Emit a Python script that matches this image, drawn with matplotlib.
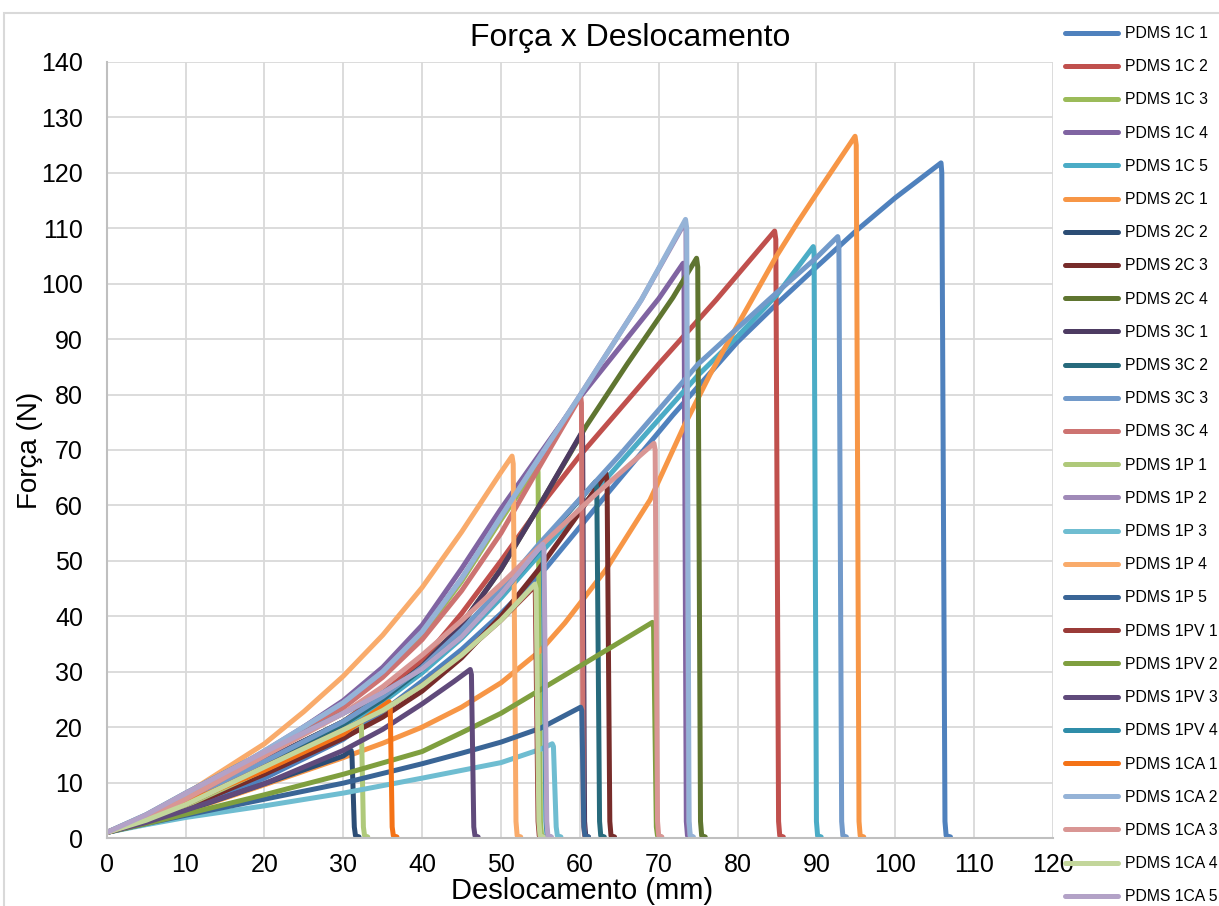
import matplotlib
matplotlib.use("Agg")
import matplotlib.pyplot as plt
from matplotlib.patches import Rectangle

plt.rcParams["font.family"] = ["Liberation Sans", "DejaVu Sans"]

# ── Series data (deslocamento mm, força N) ───────────────────────────────────
x_1c1 = [0, 5, 10, 20, 30, 35, 40, 45, 50, 55.7, 63.3, 71.8, 80, 85, 90, 95, 100, 105.8, 105.9, 106.3, 106.45, 107.0]
y_1c1 = [1, 3.0, 5.3, 10.8, 17.8, 22.8, 28.3, 34, 40.5, 48.7, 61.8, 76.3, 89.5, 96.4, 103, 109.5, 115.5, 121.8, 120, 3, 0.4, 0.2]

x_1c2 = [0, 5, 10, 20, 30, 35, 40, 45, 50, 54.8, 60, 70, 77.3, 84.7, 84.85, 85.2, 85.35, 85.8]
y_1c2 = [1, 3.2, 6.0, 13, 21, 26.2, 32, 40.5, 50, 59.5, 69, 85.5, 97.1, 109.5, 108, 3, 0.4, 0.2]

x_1c3 = [0, 5, 10, 20, 30, 35, 40, 45, 50, 54.6, 54.7, 55.0, 55.15, 55.5]
y_1c3 = [1, 3.6, 6.8, 15, 24, 29.6, 36.7, 46.3, 57.4, 67.2, 66, 3, 0.4, 0.2]

x_1c4 = [0, 5, 10, 20, 30, 35, 40, 45, 50, 60, 70, 73.1, 73.2, 73.5, 73.65, 74.0]
y_1c4 = [1, 3.6, 7.0, 15.3, 24.8, 30.8, 38.4, 48.6, 59.4, 79.5, 97.3, 103.7, 102.5, 3, 0.4, 0.2]

x_1c5 = [0, 5, 10, 20, 30, 35, 40, 45, 50, 54.8, 65, 75, 80, 85, 89.6, 89.7, 90.0, 90.15, 90.6]
y_1c5 = [1, 3.2, 6.0, 12.8, 20, 24.5, 29.8, 36, 43.3, 51, 67.5, 83.5, 90.5, 98, 106.7, 105.5, 3, 0.4, 0.2]

x_2c1 = [0, 5, 10, 20, 30, 35, 40, 45, 50, 55, 58.1, 63.3, 68.9, 73.1, 76.5, 80.3, 84.9, 87.5, 90, 94.9,
         95.05, 95.4, 95.55, 96.0]
y_2c1 = [1, 2.8, 4.8, 9.6, 14.5, 17.1, 20, 23.6, 28, 33.8, 38.8, 48.4, 61, 74, 83.6, 93.3, 104.9, 110.8, 116.2, 126.6,
         125, 3, 0.4, 0.2]

x_2c2 = [0, 5, 10, 20, 30, 31.0, 31.1, 31.4, 31.55, 32.0]
y_2c2 = [1, 2.8, 4.9, 9.8, 14.8, 15.8, 15.0, 2, 0.4, 0.2]

x_2c3 = [0, 5, 10, 20, 30, 35, 40, 45, 50, 54.8, 60, 63.3, 63.45, 63.8, 63.95, 64.4]
y_2c3 = [1, 3.0, 5.5, 11.5, 18, 21.8, 26.5, 32.5, 40, 48.5, 58.8, 65.8, 64.5, 3, 0.4, 0.2]

x_2c4 = [0, 5, 10, 20, 30, 35, 40, 45, 50, 54.8, 60.8, 66, 71.8, 74.8, 74.95, 75.3, 75.45, 75.9]
y_2c4 = [1, 3.4, 6.5, 14, 21, 25.5, 31, 38.5, 48.5, 59.8, 74.3, 85.5, 97.5, 104.6, 103, 3, 0.4, 0.2]

x_3c1 = [0, 5, 10, 20, 30, 35, 40, 45, 50, 54.8, 60.3, 60.35, 60.6, 60.75, 61.1]
y_3c1 = [1, 3.4, 6.5, 14, 21, 25.5, 31, 38.5, 48.5, 59.8, 73.3, 72.5, 3, 0.4, 0.2]

x_3c2 = [0, 5, 10, 20, 30, 35, 40, 45, 50, 55, 62.0, 62.15, 62.5, 62.65, 63.1]
y_3c2 = [1, 3.3, 6.2, 13.2, 20.5, 25, 30.5, 37.3, 45, 53, 64.3, 63, 3, 0.4, 0.2]

x_3c3 = [0, 5, 10, 20, 30, 35, 40, 45, 50, 54.8, 65, 75, 80, 84.1, 90, 92.7, 92.85, 93.2, 93.35, 93.8]
y_3c3 = [1, 3.5, 6.5, 13.8, 21, 25.5, 30.8, 37.5, 45, 53, 69, 85.5, 92, 97.3, 104.7, 108.5, 107, 3, 0.4, 0.2]

x_3c4 = [0, 5, 10, 20, 30, 35, 40, 45, 50, 54.8, 60.1, 60.2, 60.45, 60.6, 61.0]
y_3c4 = [1, 3.6, 6.9, 15, 23.5, 29, 35.8, 44.6, 55, 66.8, 79.7, 78.5, 3, 0.4, 0.2]

x_1p1 = [0, 5, 10, 20, 30, 32.2, 32.3, 32.55, 32.7, 33.1]
y_1p1 = [1, 3.1, 5.8, 12.3, 19, 20.8, 20.2, 2, 0.4, 0.2]

x_1p2 = [0, 5, 10, 20, 30, 35, 40, 45, 50, 54.8, 60, 67.8, 73.3, 73.45, 73.8, 73.95, 74.3]
y_1p2 = [1, 3.8, 7.3, 15.7, 24.4, 30, 37.2, 46.8, 58, 68.5, 79.8, 97.1, 111.0, 109.5, 3, 0.4, 0.2]

x_1p3 = [0, 5, 10, 20, 30, 40, 50, 55, 56.5, 56.65, 57.0, 57.15, 57.6]
y_1p3 = [1, 2.4, 3.7, 5.8, 8.1, 10.8, 13.6, 16, 17.0, 16.5, 2, 0.4, 0.2]

x_1p4 = [0, 5, 10, 20, 25, 30, 35, 40, 45, 50, 51.4, 51.55, 51.9, 52.05, 52.5]
y_1p4 = [1, 4.0, 7.9, 17, 22.8, 29.2, 36.6, 45.2, 55.2, 66, 68.9, 67.5, 3, 0.4, 0.2]

x_1p5 = [0, 5, 10, 20, 30, 40, 45, 50, 55, 60.1, 60.25, 60.5, 60.65, 61.1]
y_1p5 = [1, 2.6, 4.1, 7.0, 9.9, 13.4, 15.3, 17.3, 19.8, 23.6, 23, 2, 0.4, 0.2]

x_1pv1 = [0, 5, 10, 20, 30, 35, 40, 45, 50, 54.2, 54.35, 54.7, 54.85, 55.3]
y_1pv1 = [1, 3.2, 6.0, 12.8, 19.5, 23, 27.5, 33, 39.3, 45.3, 44.5, 3, 0.4, 0.2]

x_1pv2 = [0, 5, 10, 20, 30, 40, 45, 50, 60, 69.2, 69.35, 69.7, 69.85, 70.3]
y_1pv2 = [1, 2.6, 4.3, 7.8, 11.5, 15.6, 19, 22.5, 31, 38.9, 38, 2, 0.4, 0.2]

x_1pv3 = [0, 5, 10, 20, 30, 35, 40, 44, 46.1, 46.25, 46.55, 46.7, 47.1]
y_1pv3 = [1, 2.8, 5.0, 9.8, 15.8, 19.6, 24.2, 28.2, 30.4, 29.5, 2, 0.4, 0.2]

x_1pv4 = [0, 5, 10, 20, 30, 35, 40, 45, 50, 55.2, 55.35, 55.7, 55.85, 56.3]
y_1pv4 = [1, 4.2, 8.1, 15.5, 22.5, 26.2, 30.5, 36.3, 44, 52.5, 51.5, 3, 0.4, 0.2]

x_1ca1 = [0, 5, 10, 20, 30, 35.8, 35.95, 36.2, 36.35, 36.8]
y_1ca1 = [1, 3.4, 6.4, 12.2, 18.8, 24.6, 24, 2, 0.4, 0.2]

x_1ca2 = [0, 5, 10, 20, 30, 35, 40, 45, 50, 54.8, 60, 67.8, 73.4, 73.55, 73.85, 74.0, 74.4]
y_1ca2 = [1, 3.8, 7.3, 15.7, 24.4, 30, 37.2, 46.8, 58, 68.5, 79.8, 97.1, 111.6, 110, 3, 0.4, 0.2]

x_1ca3 = [0, 5, 10, 20, 30, 35, 40, 45, 50, 54.8, 62, 69.4, 69.55, 69.85, 70.0, 70.4]
y_1ca3 = [1, 3.6, 7.0, 14.8, 22.5, 27.3, 33, 39.2, 45.8, 52.4, 62, 71.2, 70, 3, 0.4, 0.2]

x_1ca4 = [0, 5, 10, 20, 30, 35, 40, 45, 50, 54.3, 54.45, 54.8, 54.95, 55.4]
y_1ca4 = [1, 3.2, 6.0, 12.8, 19.5, 23, 27.5, 33, 39.3, 45.8, 45, 3, 0.4, 0.2]

x_1ca5 = [0, 5, 10, 20, 30, 35, 40, 45, 50, 55.3, 55.45, 55.8, 55.95, 56.4]
y_1ca5 = [1, 4.2, 8.1, 15.5, 22.5, 26.2, 30.5, 36.3, 44, 53.0, 52, 3, 0.4, 0.2]

labels = ["PDMS 1C 1", "PDMS 1C 2", "PDMS 1C 3", "PDMS 1C 4", "PDMS 1C 5",
          "PDMS 2C 1", "PDMS 2C 2", "PDMS 2C 3", "PDMS 2C 4",
          "PDMS 3C 1", "PDMS 3C 2", "PDMS 3C 3", "PDMS 3C 4",
          "PDMS 1P 1", "PDMS 1P 2", "PDMS 1P 3", "PDMS 1P 4", "PDMS 1P 5",
          "PDMS 1PV 1", "PDMS 1PV 2", "PDMS 1PV 3", "PDMS 1PV 4",
          "PDMS 1CA 1", "PDMS 1CA 2", "PDMS 1CA 3", "PDMS 1CA 4", "PDMS 1CA 5"]
colors = ["#4F81BD", "#C0504D", "#9BBB59", "#8064A2", "#4BACC6",
          "#F79646", "#2C4D75", "#772C2A", "#5F7530",
          "#4D3B62", "#276A7C", "#729ACA", "#CD7371",
          "#AFC97A", "#A08AB8", "#6FBDD1", "#F9AB6B", "#3A6596",
          "#9A3B38", "#7F9F3F", "#604A7B", "#2F8DA9",
          "#F47216", "#95B3D7", "#D99694", "#C3D69B", "#B3A2C7"]
xs = [x_1c1, x_1c2, x_1c3, x_1c4, x_1c5, x_2c1, x_2c2, x_2c3, x_2c4,
      x_3c1, x_3c2, x_3c3, x_3c4, x_1p1, x_1p2, x_1p3, x_1p4, x_1p5,
      x_1pv1, x_1pv2, x_1pv3, x_1pv4, x_1ca1, x_1ca2, x_1ca3, x_1ca4, x_1ca5]
ys = [y_1c1, y_1c2, y_1c3, y_1c4, y_1c5, y_2c1, y_2c2, y_2c3, y_2c4,
      y_3c1, y_3c2, y_3c3, y_3c4, y_1p1, y_1p2, y_1p3, y_1p4, y_1p5,
      y_1pv1, y_1pv2, y_1pv3, y_1pv4, y_1ca1, y_1ca2, y_1ca3, y_1ca4, y_1ca5]

# ── Figure ────────────────────────────────────────────────────────────────────
W, H = 1219, 906
fig = plt.figure(figsize=(W / 100, H / 100), dpi=100)
ax = fig.add_axes([106.7 / W, 1 - 838 / H, (1053 - 106.7) / W, (838 - 62) / H])

lines = []
for x, y, lab, c in zip(xs, ys, labels, colors):
    ln, = ax.plot(x, y, color=c, lw=3.6, label=lab,
                  solid_joinstyle="round", solid_capstyle="round")
    lines.append(ln)

ax.set_xlim(0, 120)
ax.set_ylim(0, 140)
ax.set_xticks(range(0, 121, 10))
ax.set_yticks(range(0, 141, 10))
ax.grid(True, color="#D9D9D9", lw=1.3)
ax.set_axisbelow(True)
for s in ["top", "right"]:
    ax.spines[s].set_visible(False)
for s in ["left", "bottom"]:
    ax.spines[s].set_color("#BFBFBF")
    ax.spines[s].set_linewidth(1.5)
ax.tick_params(axis="x", length=0, labelsize=18, pad=11)
ax.tick_params(axis="y", length=0, labelsize=18, pad=17)

ax.set_xlabel("Deslocamento (mm)", fontsize=21, va="bottom")
ax.set_ylabel("Força (N)", fontsize=20, va="center")
ax.xaxis.set_label_coords(0.502, -(905 - 838) / 776)
ax.yaxis.set_label_coords(-0.081, 0.5)
fig.text(630 / W, 1 - 38 / H, "Força x Deslocamento", fontsize=23,
         ha="center", va="center")

fig.legend(handles=lines, loc="upper left", bbox_to_anchor=(1065 / W, 1 - 26 / H),
           frameon=False, fontsize=11.3, handlelength=3.4, handletextpad=0.4,
           labelspacing=1.16, borderaxespad=0, borderpad=0)

# chart area border
fig.add_artist(Rectangle((4 / W, -0.05), 1.1, 1.05 - 13 / H,
                         transform=fig.transFigure, fill=False,
                         edgecolor="#D9D9D9", lw=1.5))

fig.savefig("out.png", dpi=100)
